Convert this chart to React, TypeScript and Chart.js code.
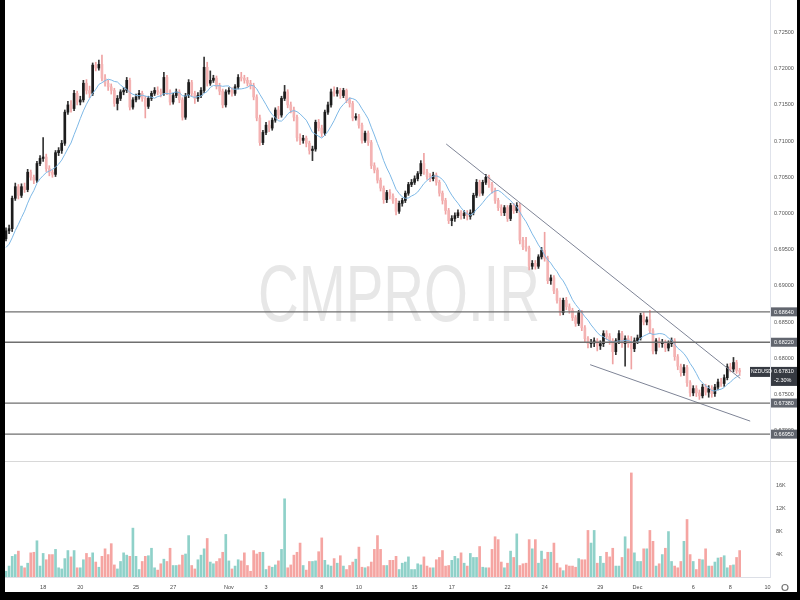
import React, { useEffect, useRef } from "react";
import { Chart, registerables } from "chart.js";

Chart.register(...registerables);

// ---------------- data ----------------
const symbol = "NZDUSD";
const changeText = "-2.30%";
const watermark = "CMPRO.IR";
const firstOpen = 0.6965;

const closes = [
  0.6976,0.6979,0.7021,0.7037,0.7025,0.7037,0.7033,0.7057,0.7050,0.7046,
  0.7069,0.7076,0.7078,0.7062,0.7057,0.7054,0.7084,0.7087,0.7097,0.7140,
  0.7150,0.7145,0.7166,0.7154,0.7157,0.7180,0.7170,0.7166,0.7205,0.7201,
  0.7206,0.7187,0.7180,0.7175,0.7170,0.7152,0.7159,0.7168,0.7170,0.7184,
  0.7147,0.7157,0.7161,0.7166,0.7159,0.7148,0.7159,0.7166,0.7170,0.7168,
  0.7166,0.7188,0.7168,0.7154,0.7163,0.7168,0.7157,0.7133,0.7163,0.7181,
  0.7166,0.7159,0.7163,0.7170,0.7202,0.7180,0.7184,0.7187,0.7176,0.7169,
  0.7150,0.7168,0.7170,0.7166,0.7175,0.7188,0.7187,0.7184,0.7180,0.7177,
  0.7161,0.7132,0.7098,0.7112,0.7122,0.7118,0.7129,0.7143,0.7136,0.7159,
  0.7168,0.7150,0.7143,0.7133,0.7105,0.7101,0.7104,0.7097,0.7087,0.7089,
  0.7126,0.7118,0.7111,0.7140,0.7150,0.7168,0.7166,0.7170,0.7163,0.7170,
  0.7157,0.7152,0.7132,0.7134,0.7122,0.7101,0.7111,0.7098,0.7066,0.7060,
  0.7046,0.7035,0.7019,0.7029,0.7024,0.7018,0.7003,0.7014,0.7018,0.7028,
  0.7040,0.7043,0.7048,0.7055,0.7069,0.7057,0.7051,0.7048,0.7053,0.7043,
  0.7028,0.7018,0.7004,0.6990,0.6993,0.6997,0.7001,0.6997,0.7000,0.6996,
  0.7001,0.7025,0.7043,0.7028,0.7043,0.7050,0.7040,0.7032,0.7018,0.7008,
  0.7001,0.7008,0.6993,0.7011,0.7004,0.7011,0.6963,0.6954,0.6952,0.6927,
  0.6931,0.6927,0.6940,0.6949,0.6938,0.6907,0.6911,0.6893,0.6880,0.6863,
  0.6880,0.6871,0.6866,0.6856,0.6848,0.6863,0.6842,0.6827,0.6820,0.6821,
  0.6824,0.6817,0.6820,0.6834,0.6830,0.6824,0.6809,0.6824,0.6834,0.6820,
  0.6827,0.6820,0.6813,0.6824,0.6828,0.6859,0.6850,0.6853,0.6838,0.6810,
  0.6824,0.6820,0.6821,0.6814,0.6820,0.6824,0.6802,0.6789,0.6780,0.6787,
  0.6766,0.6752,0.6758,0.6752,0.6748,0.6760,0.6753,0.6758,0.6751,0.6760,
  0.6767,0.6765,0.6773,0.6788,0.6785,0.6794,0.6783,0.6781,
];

const highs = [
  0.6980,0.6984,0.7024,0.7042,0.7040,0.7041,0.7042,0.7061,0.7060,0.7053,
  0.7072,0.7080,0.7105,0.7082,0.7066,0.7060,0.7087,0.7091,0.7101,0.7143,
  0.7155,0.7156,0.7170,0.7169,0.7162,0.7184,0.7185,0.7176,0.7208,0.7209,
  0.7212,0.7219,0.7192,0.7184,0.7179,0.7173,0.7163,0.7171,0.7174,0.7188,
  0.7187,0.7160,0.7165,0.7170,0.7169,0.7162,0.7162,0.7169,0.7174,0.7175,
  0.7172,0.7195,0.7191,0.7171,0.7166,0.7172,0.7171,0.7160,0.7166,0.7185,
  0.7184,0.7169,0.7167,0.7174,0.7216,0.7209,0.7197,0.7191,0.7190,0.7180,
  0.7172,0.7171,0.7174,0.7174,0.7178,0.7192,0.7195,0.7191,0.7188,0.7184,
  0.7180,0.7164,0.7136,0.7115,0.7126,0.7128,0.7132,0.7146,0.7148,0.7162,
  0.7177,0.7171,0.7154,0.7147,0.7136,0.7110,0.7108,0.7107,0.7100,0.7093,
  0.7129,0.7130,0.7122,0.7143,0.7154,0.7172,0.7175,0.7174,0.7173,0.7173,
  0.7172,0.7160,0.7155,0.7138,0.7137,0.7125,0.7114,0.7114,0.7101,0.7070,
  0.7063,0.7049,0.7038,0.7032,0.7033,0.7027,0.7021,0.7017,0.7021,0.7031,
  0.7043,0.7047,0.7052,0.7058,0.7073,0.7083,0.7061,0.7055,0.7057,0.7056,
  0.7046,0.7031,0.7021,0.7007,0.6997,0.7001,0.7005,0.7004,0.7004,0.7004,
  0.7005,0.7028,0.7047,0.7046,0.7046,0.7054,0.7053,0.7043,0.7035,0.7021,
  0.7012,0.7011,0.7011,0.7014,0.7014,0.7015,0.7014,0.6967,0.6967,0.6955,
  0.6935,0.6935,0.6943,0.6953,0.6974,0.6941,0.6915,0.6914,0.6896,0.6883,
  0.6883,0.6884,0.6875,0.6869,0.6859,0.6866,0.6866,0.6845,0.6830,0.6826,
  0.6828,0.6827,0.6824,0.6838,0.6838,0.6834,0.6827,0.6827,0.6838,0.6837,
  0.6831,0.6831,0.6830,0.6828,0.6832,0.6862,0.6863,0.6857,0.6866,0.6841,
  0.6827,0.6828,0.6826,0.6825,0.6824,0.6828,0.6827,0.6805,0.6792,0.6791,
  0.6790,0.6769,0.6762,0.6762,0.6756,0.6764,0.6764,0.6762,0.6762,0.6764,
  0.6771,0.6772,0.6777,0.6792,0.6793,0.6801,0.6797,0.6786,
];

const lows = [
  0.6962,0.6972,0.6975,0.7018,0.7020,0.7022,0.7029,0.7030,0.7046,0.7041,
  0.7043,0.7066,0.7072,0.7058,0.7052,0.7050,0.7051,0.7080,0.7083,0.7094,
  0.7137,0.7140,0.7142,0.7150,0.7150,0.7154,0.7165,0.7160,0.7163,0.7197,
  0.7198,0.7183,0.7176,0.7170,0.7165,0.7148,0.7143,0.7156,0.7164,0.7167,
  0.7143,0.7144,0.7154,0.7158,0.7155,0.7132,0.7145,0.7156,0.7163,0.7164,
  0.7161,0.7163,0.7164,0.7150,0.7151,0.7160,0.7153,0.7129,0.7130,0.7160,
  0.7162,0.7152,0.7155,0.7160,0.7167,0.7176,0.7177,0.7181,0.7172,0.7164,
  0.7146,0.7147,0.7165,0.7162,0.7163,0.7172,0.7183,0.7180,0.7176,0.7172,
  0.7157,0.7128,0.7094,0.7095,0.7109,0.7113,0.7115,0.7126,0.7131,0.7133,
  0.7156,0.7146,0.7139,0.7128,0.7100,0.7095,0.7097,0.7092,0.7082,0.7073,
  0.7086,0.7114,0.7106,0.7108,0.7137,0.7147,0.7162,0.7162,0.7159,0.7160,
  0.7153,0.7147,0.7128,0.7129,0.7118,0.7097,0.7098,0.7094,0.7062,0.7056,
  0.7042,0.7031,0.7014,0.7015,0.7020,0.7014,0.6998,0.7000,0.7010,0.7015,
  0.7025,0.7037,0.7040,0.7045,0.7052,0.7054,0.7047,0.7044,0.7045,0.7039,
  0.7024,0.7013,0.6999,0.6986,0.6983,0.6989,0.6994,0.6992,0.6993,0.6991,
  0.6992,0.6998,0.7022,0.7024,0.7025,0.7040,0.7036,0.7028,0.7014,0.7004,
  0.6997,0.6997,0.6989,0.6990,0.7000,0.7001,0.6958,0.6950,0.6948,0.6922,
  0.6923,0.6923,0.6924,0.6937,0.6934,0.6903,0.6902,0.6889,0.6876,0.6859,
  0.6860,0.6867,0.6862,0.6852,0.6844,0.6845,0.6838,0.6822,0.6814,0.6815,
  0.6816,0.6810,0.6812,0.6816,0.6826,0.6819,0.6792,0.6805,0.6820,0.6815,
  0.6789,0.6815,0.6785,0.6809,0.6820,0.6825,0.6846,0.6846,0.6834,0.6806,
  0.6806,0.6815,0.6815,0.6809,0.6810,0.6816,0.6797,0.6784,0.6775,0.6776,
  0.6761,0.6747,0.6748,0.6747,0.6743,0.6745,0.6749,0.6746,0.6746,0.6747,
  0.6756,0.6761,0.6761,0.6770,0.6781,0.6781,0.6779,0.6776,
];

// volume in thousands
const volumesK = [
  1.0,1.9,3.6,3.9,4.5,1.9,1.6,2.4,4.2,4.3,
  6.3,1.9,4.1,3.0,3.9,3.9,4.8,1.6,1.4,3.2,
  4.6,3.5,4.6,1.6,1.6,3.0,4.1,3.4,4.2,2.6,
  1.7,3.6,4.9,3.9,5.8,2.1,1.4,2.7,4.2,3.8,
  3.6,8.5,3.6,1.3,2.7,3.6,3.7,5.0,1.6,1.2,
  2.3,3.1,2.7,5.0,2.0,2.0,2.1,3.8,4.0,7.2,
  2.0,1.4,3.0,3.8,4.9,6.7,2.6,2.3,2.7,3.2,
  4.3,7.4,2.8,1.4,1.9,3.0,2.8,4.2,2.0,1.0,
  4.6,4.0,4.3,4.3,1.3,1.9,1.7,2.1,2.8,4.8,
  13.6,1.6,2.1,3.8,4.3,5.9,2.0,1.2,2.7,2.7,
  2.8,4.4,6.8,2.9,2.1,1.9,3.2,2.4,3.7,1.9,
  1.3,2.0,2.6,3.1,5.2,1.7,1.6,1.8,2.6,4.8,
  7.2,4.8,2.0,2.0,2.9,2.9,3.6,1.3,
  2.4,2.6,3.5,1.3,1.3,2.3,2.1,3.5,1.9,
  1.6,1.6,3.0,3.4,4.6,1.9,2.0,2.9,3.6,3.2,
  4.2,2.4,1.9,4.1,3.4,3.4,5.3,1.7,1.6,
  1.6,4.8,7.0,6.5,2.6,1.6,2.4,4.5,3.4,7.5,
  2.0,2.3,2.4,6.5,4.9,6.5,2.4,4.5,3.1,4.3,
  4.3,5.9,2.4,1.6,1.1,2.1,1.9,1.9,1.7,3.2,
  3.0,3.0,8.1,5.9,8.1,2.4,3.6,2.4,4.3,3.5,
  5.0,1.9,1.9,3.4,7.0,4.9,18.1,4.2,2.7,2.7,
  4.9,4.9,8.1,6.2,1.9,2.3,3.9,5.0,7.9,2.7,
  1.9,1.6,2.7,6.2,10.0,3.9,2.7,1.3,3.1,3.0,
  4.9,1.9,1.9,2.6,3.3,3.4,3.7,1.6,2.0,
  2.1,3.4,4.6,
];

// closes before the first visible bar (seed for the moving average)
const earlierCloses = [0.6938, 0.6942, 0.6946, 0.6949, 0.6952, 0.6954, 0.6957, 0.6963];
const maPeriod = 9;

const levels = [0.6864, 0.6822, 0.6738, 0.6695];
const upperTrend = [{ x: 142.2, y: 0.7096 }, { x: 237.2, y: 0.6772 }];
const lowerTrend = [{ x: 188.7, y: 0.6791 }, { x: 240.4, y: 0.6713 }];

const priceTicks = [0.67, 0.675, 0.68, 0.685, 0.69, 0.695, 0.7, 0.705, 0.71, 0.715, 0.72, 0.725];
const volumeTicksK = [4, 8, 12, 16];

const dayLabels = ["18", "20", "25", "27", "Nov", "3", "8", "10", "15", "17", "22", "24", "29", "Dec", "6", "8", "10"];
const dayOffsets = [2, 4, 7, 9, 12, 14, 17, 19, 22, 24, 27, 29, 32, 34, 37, 39, 41];
const barsPerDay = 6;

const xMin = -0.32;
const xMax = 246.8;
const priceMin = 0.66565;
const priceMax = 0.7295;
const volMaxK = 20;

// ---------------- derived ----------------
const idx = closes.map((_, i) => i);
const opens = closes.map((_, i) => (i === 0 ? firstOpen : closes[i - 1]));
const isUp = closes.map((c, i) => c >= opens[i]);
const allCloses = [...earlierCloses, ...closes];
const ma = closes.map((_, i) => {
  const end = i + earlierCloses.length;
  let s = 0;
  let k = 0;
  for (let j = Math.max(0, end - maPeriod + 1); j <= end; j++) {
    s += allCloses[j];
    k++;
  }
  return s / k;
});

const FONT = '"Liberation Sans", Arial, sans-serif';
const tickFont = { family: FONT, size: 5.5 };
const AXIS_W = 27;

const watermarkPlugin = {
  id: "wm",
  beforeDatasetsDraw(chart: any) {
    const { ctx } = chart;
    ctx.save();
    ctx.font = '400 80px "Liberation Sans Narrow", "Liberation Sans", sans-serif';
    const w = ctx.measureText(watermark).width;
    ctx.translate(394, 321);
    ctx.scale(282 / w, 1);
    ctx.fillStyle = "#e7e7e7";
    ctx.textBaseline = "alphabetic";
    ctx.textAlign = "left";
    ctx.fillText(watermark, -w / 2, 0);
    ctx.restore();
  },
};

const tagPlugin = {
  id: "tags",
  afterDraw(chart: any) {
    const { ctx } = chart;
    const ys = chart.scales.y;
    const left = ys.left;
    const right = chart.width;
    ctx.save();
    // pane separator
    ctx.strokeStyle = "#d8d8d8";
    ctx.lineWidth = 1;
    ctx.beginPath();
    ctx.moveTo(0, chart.height - 0.5);
    ctx.lineTo(right, chart.height - 0.5);
    ctx.stroke();

    ctx.font = `5.5px ${FONT}`;
    ctx.textBaseline = "middle";
    ctx.textAlign = "left";
    levels.forEach((l) => {
      const py = ys.getPixelForValue(l);
      ctx.fillStyle = "#62666f";
      ctx.fillRect(left + 1, py - 4.5, right - left - 1, 9);
      ctx.fillStyle = "#ffffff";
      ctx.fillText(l.toFixed(5), left + 4, py + 0.5);
    });
    const last = closes[closes.length - 1];
    const py = ys.getPixelForValue(last);
    ctx.fillStyle = "#363a42";
    ctx.fillRect(left + 1, py - 5, right - left - 1, 19);
    ctx.fillRect(left - 20, py - 5, 20, 10);
    ctx.fillStyle = "#ffffff";
    ctx.fillText(last.toFixed(5), left + 4, py);
    ctx.fillText(changeText, left + 4, py + 9);
    ctx.font = `5px ${FONT}`;
    ctx.fillText(symbol, left - 19, py);
    ctx.restore();
  },
};

const gearPlugin = {
  id: "gear",
  afterDraw(chart: any) {
    const { ctx } = chart;
    ctx.save();
    ctx.strokeStyle = "#777";
    ctx.lineWidth = 1.2;
    ctx.beginPath();
    ctx.arc(chart.width - 12, chart.height - 4.5, 3, 0, Math.PI * 2);
    ctx.stroke();
    ctx.restore();
  },
};

const lineDs = (data: any[], color: string, width: number, order: number) => ({
  type: "line" as const,
  data,
  borderColor: color,
  borderWidth: width,
  pointRadius: 0,
  tension: 0,
  fill: false,
  order,
});

function makePriceConfig(): any {
  return {
    type: "bar",
    data: {
      datasets: [
        ...levels.map((l) => lineDs([{ x: xMin, y: l }, { x: xMax, y: l }], "#6f6f6f", 1.3, 0)),
        lineDs(upperTrend, "#7e8496", 1, 0),
        lineDs(lowerTrend, "#7e8496", 1, 0),
        lineDs(idx.map((i) => ({ x: i, y: ma[i] })), "#7db8e6", 1, 1),
        {
          type: "bar",
          data: idx.map((i) => ({ x: i, y: [opens[i], closes[i]] })),
          backgroundColor: idx.map((i) => (isUp[i] ? "#1c1c1c" : "#f4b3b3")),
          barThickness: 2,
          minBarLength: 1,
          grouped: false,
          order: 2,
        },
        {
          type: "bar",
          data: idx.map((i) => ({ x: i, y: [lows[i], highs[i]] })),
          backgroundColor: idx.map((i) => (isUp[i] ? "#333333" : "#efa3a3")),
          barThickness: 1,
          grouped: false,
          order: 3,
        },
      ],
    },
    options: {
      animation: false,
      responsive: false,
      maintainAspectRatio: false,
      events: [],
      layout: { padding: 0 },
      plugins: { legend: { display: false }, tooltip: { enabled: false } },
      scales: {
        x: {
          type: "linear",
          min: xMin,
          max: xMax,
          display: false,
          offset: false,
          afterFit: (s: any) => {
            s.paddingLeft = 0;
            s.paddingRight = 0;
          },
        },
        y: {
          type: "linear",
          position: "right",
          min: priceMin,
          max: priceMax,
          grid: { display: false, drawTicks: false },
          border: { display: true, color: "#e0e3eb" },
          ticks: {
            font: tickFont,
            color: "#555",
            padding: 4,
            callback: (v: any) => Number(v).toFixed(5),
          },
          afterBuildTicks: (s: any) => {
            s.ticks = priceTicks.map((v) => ({ value: v }));
          },
          afterFit: (s: any) => {
            s.width = AXIS_W;
            s.paddingTop = 0;
            s.paddingBottom = 0;
          },
        },
      },
    },
    plugins: [watermarkPlugin, tagPlugin],
  };
}

function makeVolumeConfig(): any {
  return {
    type: "bar",
    data: {
      datasets: [
        {
          data: idx.map((i) => ({ x: i, y: volumesK[i] })),
          backgroundColor: idx.map((i) => (isUp[i] ? "#8fd1c9" : "#f5a5a2")),
          barThickness: 2,
          grouped: false,
        },
      ],
    },
    options: {
      animation: false,
      responsive: false,
      maintainAspectRatio: false,
      events: [],
      layout: { padding: 0 },
      plugins: { legend: { display: false }, tooltip: { enabled: false } },
      scales: {
        x: {
          type: "linear",
          min: xMin,
          max: xMax,
          offset: false,
          grid: { display: false, drawTicks: false },
          border: { display: true, color: "#dcdfe6" },
          ticks: {
            font: tickFont,
            color: "#4a4a4a",
            padding: 7,
            autoSkip: false,
            maxRotation: 0,
            callback: (v: any) => {
              const k = dayOffsets.findIndex((d) => d * barsPerDay === Number(v));
              return k >= 0 ? dayLabels[k] : "";
            },
          },
          afterBuildTicks: (s: any) => {
            s.ticks = dayOffsets.map((d) => ({ value: d * barsPerDay }));
          },
          afterFit: (s: any) => {
            s.height = 15;
            s.paddingLeft = 0;
            s.paddingRight = 0;
          },
        },
        y: {
          type: "linear",
          position: "right",
          min: 0,
          max: volMaxK,
          grid: { display: false, drawTicks: false },
          border: { display: true, color: "#e0e3eb" },
          ticks: {
            font: tickFont,
            color: "#555",
            padding: 6,
            callback: (v: any) => `${v}K`,
          },
          afterBuildTicks: (s: any) => {
            s.ticks = volumeTicksK.map((v) => ({ value: v }));
          },
          afterFit: (s: any) => {
            s.width = AXIS_W;
            s.paddingTop = 0;
            s.paddingBottom = 0;
          },
        },
      },
    },
    plugins: [gearPlugin],
  };
}

export default function App() {
  const priceRef = useRef<HTMLCanvasElement | null>(null);
  const volRef = useRef<HTMLCanvasElement | null>(null);

  useEffect(() => {
    if (!priceRef.current || !volRef.current) return;
    const a = new Chart(priceRef.current, makePriceConfig());
    const b = new Chart(volRef.current, makeVolumeConfig());
    return () => {
      a.destroy();
      b.destroy();
    };
  }, []);

  return (
    <div style={{ position: "fixed", left: 0, top: 0, width: 800, height: 600, background: "#000" }}>
      <div style={{ position: "absolute", left: 5, top: 0, width: 792, height: 592, background: "#fff" }}>
        <canvas
          ref={priceRef}
          width={792}
          height={462}
          style={{ position: "absolute", left: 0, top: 0, width: 792, height: 462 }}
        />
        <canvas
          ref={volRef}
          width={792}
          height={130}
          style={{ position: "absolute", left: 0, top: 462, width: 792, height: 130 }}
        />
      </div>
    </div>
  );
}
